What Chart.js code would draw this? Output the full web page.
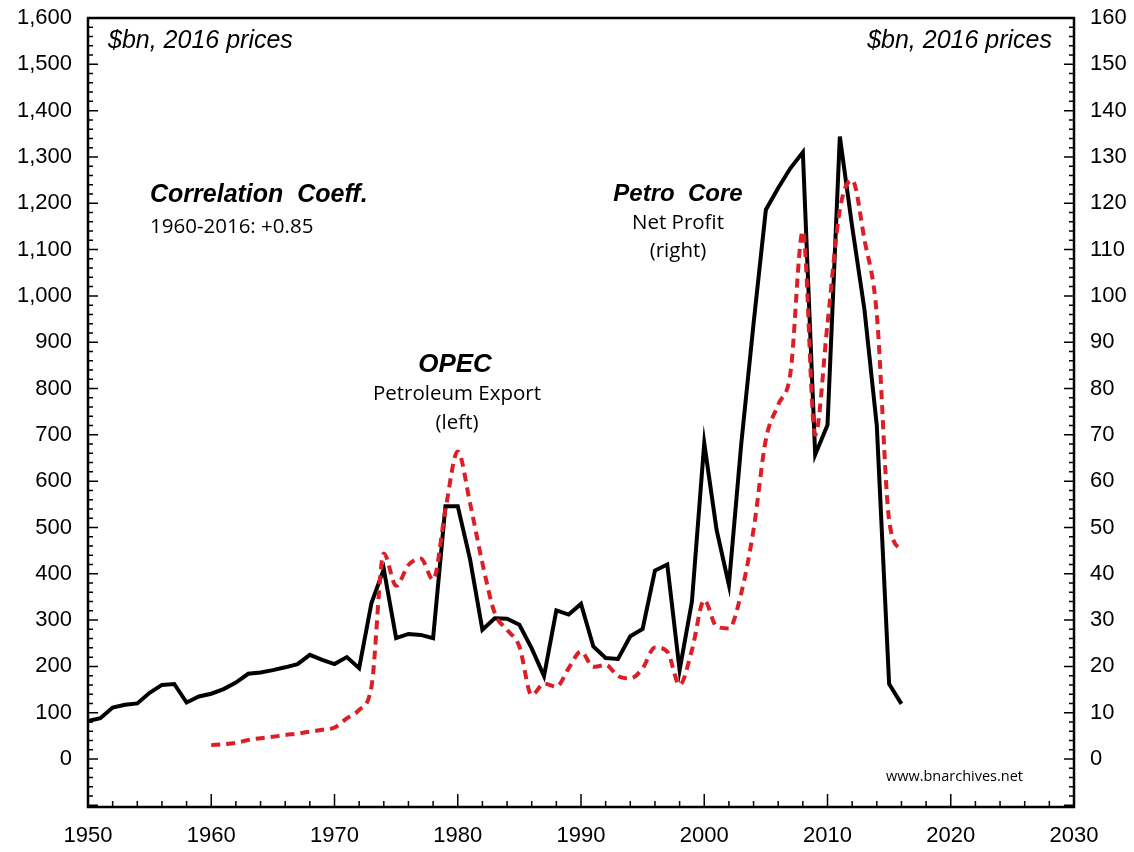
<!DOCTYPE html>
<html>
<head>
<meta charset="utf-8">
<script src="https://cdn.jsdelivr.net/npm/chart.js@4.4.0/dist/chart.umd.min.js"></script>
<style>
html,body{margin:0;padding:0;background:#fff;}
#wrap{width:1134px;height:852px;position:relative;}
</style>
</head>
<body>
<div id="wrap"><canvas id="c" width="1134" height="852"></canvas></div>
<script>
// ---- data ----
const petroYears = [1950,1951,1952,1953,1954,1955,1956,1957,1958,1959,1960,1961,1962,1963,1964,1965,1966,1967,1968,1969,1970,1971,1972,1973,1974,1975,1976,1977,1978,1979,1980,1981,1982,1983,1984,1985,1986,1987,1988,1989,1990,1991,1992,1993,1994,1995,1996,1997,1998,1999,2000,2001,2002,2003,2004,2005,2006,2007,2008,2009,2010,2011,2012,2013,2014,2015,2016];
const petroProfit = [8.2,8.8,11.1,11.7,12.0,14.3,16.0,16.2,12.2,13.5,14.1,15.1,16.5,18.4,18.7,19.2,19.8,20.5,22.5,21.4,20.5,22.0,19.6,33.7,41.0,26.1,27.0,26.8,26.1,54.6,54.6,43.1,27.9,30.4,30.3,29.0,23.9,17.9,32.1,31.2,33.5,24.3,21.8,21.6,26.5,28.1,40.7,42.0,19.2,34.0,68.2,49.5,37.6,68,94,118.6,123.3,127.6,131.0,65.7,72.1,134.4,115,97,72,16.2,11.9];
const opecYears = [1960,1961,1962,1963,1964,1965,1966,1967,1968,1969,1970,1971,1972,1973,1974,1975,1976,1977,1978,1979,1980,1981,1982,1983,1984,1985,1986,1987,1988,1989,1990,1991,1992,1993,1994,1995,1996,1997,1998,1999,2000,2001,2002,2003,2004,2005,2006,2007,2008,2009,2010,2011,2012,2013,2014,2015,2016];
const opecExport = [30,32,35,41,45,48,52,55,59,63,68,88,106,156,444,374,419,433,387,538,664,552,423,315,279,243,138,163,156,196,232,199,203,179,174,196,241,232,160,235,343,286,282,358,495,690,765,835,1140,700,940,1186,1250,1121,960,516,448];
const xTicks = [1950,1960,1970,1980,1990,2000,2010,2020,2030];
const leftTicks = [0,100,200,300,400,500,600,700,800,900,1000,1100,1200,1300,1400,1500,1600];
const rightTicks = [0,10,20,30,40,50,60,70,80,90,100,110,120,130,140,150,160];

const tickFont = {family:'"Liberation Sans", Arial, Helvetica, sans-serif', size:22};

function noPad(s){ s.paddingTop = 0; s.paddingBottom = 0; }

const framePlugin = {
  id:'frame',
  afterDatasetsDraw(chart){
    const {ctx, chartArea:a, scales} = chart;
    ctx.save();
    ctx.strokeStyle = '#000';
    ctx.lineWidth = 1.5;
    const yl = scales.y, yr = scales.y2, x = scales.x;
    ctx.beginPath();
    for (let v = -100; v <= 1600; v += 20) {
      const p = yl.getPixelForValue(v);
      if (p < a.top - 0.5 || p > a.bottom + 0.5) continue;
      const L = (v % 100 === 0) ? 10 : 5;
      ctx.moveTo(a.left, p); ctx.lineTo(a.left + L, p);
    }
    for (let v = -10; v <= 160; v += 2) {
      const p = yr.getPixelForValue(v);
      if (p < a.top - 0.5 || p > a.bottom + 0.5) continue;
      const L = (v % 10 === 0) ? 10 : 5;
      ctx.moveTo(a.right, p); ctx.lineTo(a.right - L, p);
    }
    for (let v = 1950; v <= 2030; v += 2) {
      const p = x.getPixelForValue(v);
      const L = (v % 10 === 0) ? 13 : 6;
      ctx.moveTo(p, a.bottom); ctx.lineTo(p, a.bottom - L);
    }
    ctx.stroke();
    ctx.lineWidth = 2.5;
    ctx.strokeRect(a.left, a.top, a.right - a.left, a.bottom - a.top);

    // annotations
    ctx.fillStyle = '#000';
    ctx.textBaseline = 'middle';
    ctx.font = 'italic 25px "Liberation Sans", Arial, sans-serif';
    ctx.textAlign = 'left';
    ctx.fillText('$bn, 2016 prices', 108, 41);
    ctx.textAlign = 'right';
    ctx.fillText('$bn, 2016 prices', 1052, 41);

    ctx.textAlign = 'left';
    ctx.font = 'italic bold 25px "Liberation Sans", Arial, sans-serif';
    ctx.fillText('Correlation  Coeff.', 150, 195);
    ctx.font = '20.5px "Open Sans", "Noto Sans", sans-serif';
    ctx.fillText('1960-2016: +0.85', 150, 227);

    ctx.textAlign = 'center';
    ctx.font = 'italic bold 26px "Liberation Sans", Arial, sans-serif';
    ctx.fillText('OPEC', 455, 365);
    ctx.font = '20.5px "Open Sans", "Noto Sans", sans-serif';
    ctx.fillText('Petroleum Export', 457, 394);
    ctx.fillText('(left)', 457, 423);

    ctx.font = 'italic bold 24px "Liberation Sans", Arial, sans-serif';
    ctx.fillText('Petro  Core', 678, 194);
    ctx.font = '20.5px "Open Sans", "Noto Sans", sans-serif';
    ctx.fillText('Net Profit', 678, 223);
    ctx.fillText('(right)', 678, 251);

    ctx.textAlign = 'right';
    ctx.font = '14.5px "Open Sans", "Noto Sans", sans-serif';
    ctx.fillText('www.bnarchives.net', 1023, 777);
    ctx.restore();
  }
};

new Chart(document.getElementById('c'), {
  type:'line',
  data:{
    datasets:[
      {
        label:'OPEC Petroleum Export (left)',
        data: opecYears.map((yr,i)=>({x:yr, y:opecExport[i]})),
        yAxisID:'y',
        borderColor:'#dc1f26',
        borderWidth:4,
        borderDash:[9,6],
        pointRadius:0,
        fill:false,
        cubicInterpolationMode:'monotone'
      },
      {
        label:'Petro Core Net Profit (right)',
        data: petroYears.map((yr,i)=>({x:yr, y:petroProfit[i]})),
        yAxisID:'y2',
        borderColor:'#000',
        borderWidth:4,
        pointRadius:0,
        fill:false,
        tension:0,
        borderJoinStyle:'miter'
      }
    ]
  },
  options:{
    responsive:false,
    animation:false,
    devicePixelRatio:1,
    layout:{padding:{top:18,left:0,right:0,bottom:0}},
    plugins:{legend:{display:false}, tooltip:{enabled:false}},
    scales:{
      x:{
        type:'linear', min:1950, max:2030,
        afterBuildTicks(s){ s.ticks = xTicks.map(v=>({value:v})); },
        afterFit(s){ s.height = 45; s.paddingLeft = 0; s.paddingRight = 0; },
        grid:{display:false, drawTicks:false},
        border:{display:false},
        ticks:{font:tickFont, color:'#000', padding:16, maxRotation:0, autoSkip:false, callback:v=>String(v)}
      },
      y:{
        type:'linear', position:'left', min:-103.6, max:1600,
        afterBuildTicks(s){ s.ticks = leftTicks.map(v=>({value:v})); },
        afterFit(s){ s.width = 88; noPad(s); },
        grid:{display:false, drawTicks:false},
        border:{display:false},
        ticks:{font:tickFont, color:'#000', padding:16, autoSkip:false,
          callback:v=>v.toLocaleString('en-US')}
      },
      y2:{
        type:'linear', position:'right', min:-10.36, max:160,
        afterBuildTicks(s){ s.ticks = rightTicks.map(v=>({value:v})); },
        afterFit(s){ s.width = 60; noPad(s); },
        grid:{display:false, drawTicks:false},
        border:{display:false},
        ticks:{font:tickFont, color:'#000', padding:16, autoSkip:false, callback:v=>String(v)}
      }
    }
  },
  plugins:[framePlugin]
});
</script>
</body>
</html>
